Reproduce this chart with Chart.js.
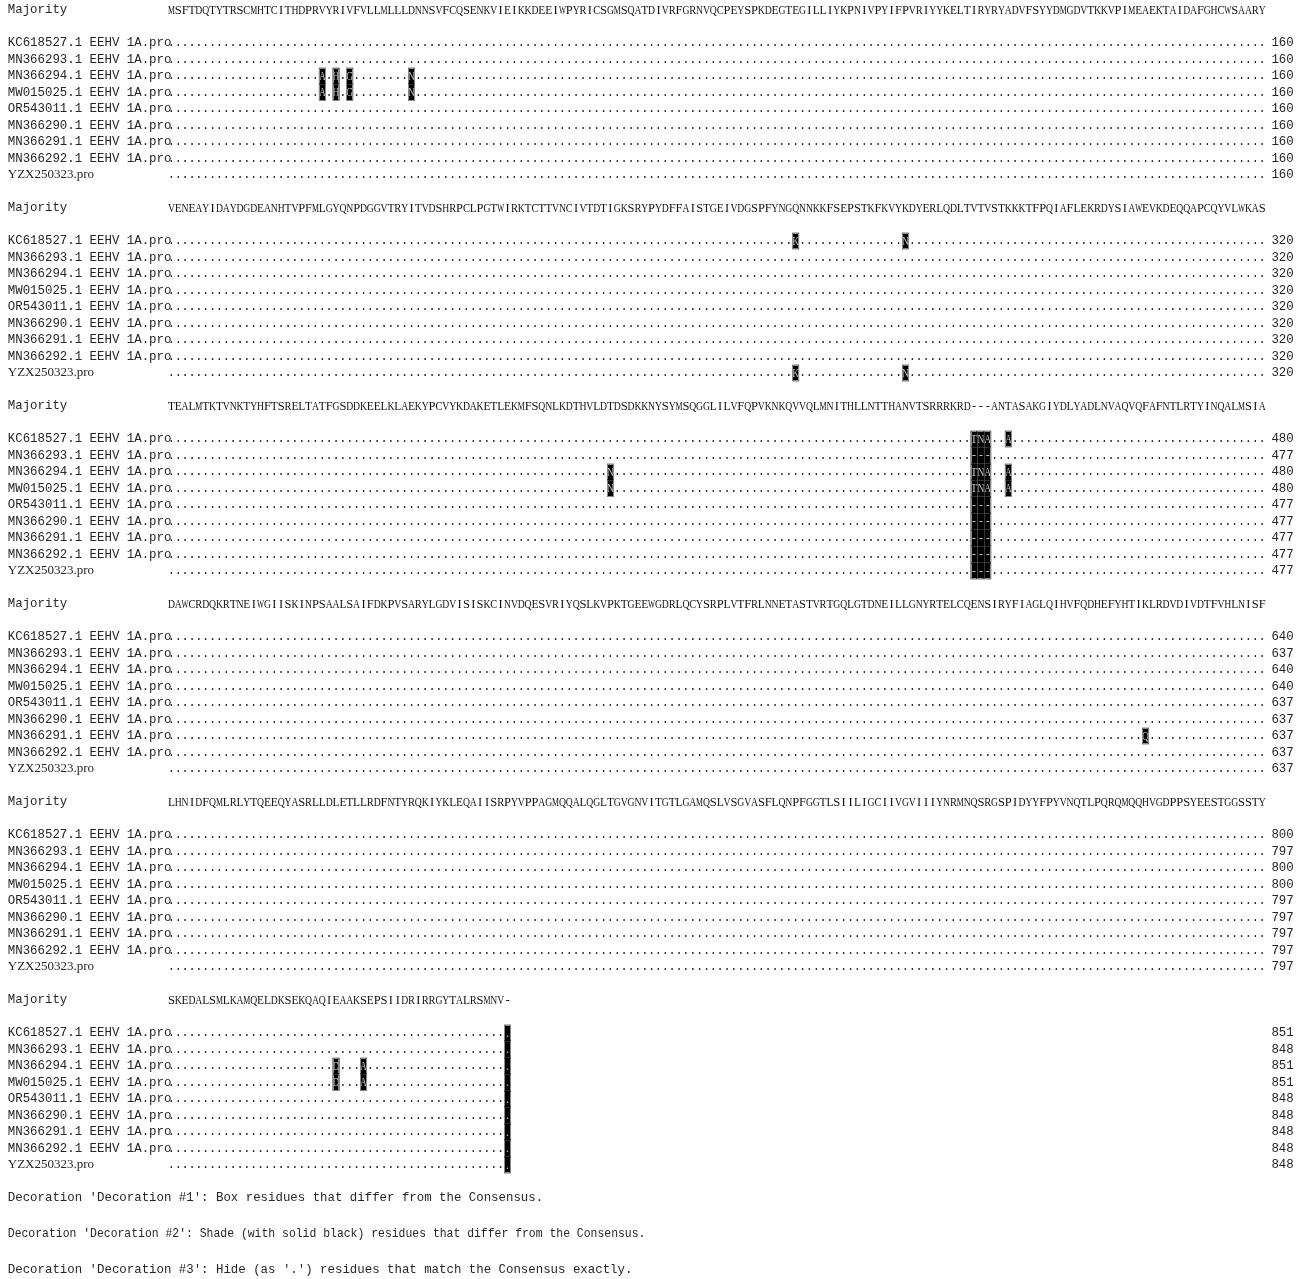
<!DOCTYPE html>
<html>
<head>
<meta charset="utf-8">
<script src="https://cdn.jsdelivr.net/npm/chart.js@4.4.0/dist/chart.umd.min.js"></script>
<style>
html,body{margin:0;padding:0;background:#fff;}
#wrap{width:1307px;height:1279px;}
</style>
</head>
<body>
<div id="wrap"><canvas id="c" width="1307" height="1279"></canvas></div>
<script>
// ---------- DATA ----------
const majorityBlocks = [
  "MSFTDQTYTRSCMHTCITHDPRVYRIVFVLLMLLLDNNSVFCQSENKVIEIKKDEEIWPYRICSGMSQATDIVRFGRNVQCPEYSPKDEGTEGILLIYKPNIVPYIFPVRIYYKELTIRYRYADVFSYYDMGDVTKKVPIMEAEKTAIDAFGHCWSAARY",
  "VENEAYIDAYDGDEANHTVPFMLGYQNPDGGVTRYITVDSHRPCLPGTWIRKTCTTVNCIVTDTIGKSRYPYDFFAISTGEIVDGSPFYNGQNNKKFSEPSTKFKVYKDYERLQDLTVTVSTKKKTFPQIAFLEKRDYSIAWEVKDEQQAPCQYVLWKAS",
  "TEALMTKTVNKTYHFTSRELTATFGSDDKEELKLAEKYPCVYKDAKETLEKMFSQNLKDTHVLDTDSDKKNYSYMSQGGLILVFQPVKNKQVVQLMNITHLLNTTHANVTSRRRKRD---ANTASAKGIYDLYADLNVAQVQFAFNTLRTYINQALMSIA",
  "DAWCRDQKRTNEIWGIISKINPSAALSAIFDKPVSARYLGDVISISKCINVDQESVRIYQSLKVPKTGEEWGDRLQCYSRPLVTFRLNNETASTVRTGQLGTDNEILLGNYRTELCQENSIRYFIAGLQIHVFQDHEFYHTIKLRDVDIVDTFVHLNISF",
  "LHNIDFQMLRLYTQEEQYASRLLDLETLLRDFNTYRQKIYKLEQAIISRPYVPPAGMQQALQGLTGVGNVITGTLGAMQSLVSGVASFLQNPFGGTLSIILIGCIIVGVIIIYNRMNQSRGSPIDYYFPYVNQTLPQRQMQQHVGDPPSYEESTGGSSTY",
  "SKEDALSMLKAMQELDKSEKQAQIEAAKSEPSIIDRIRRGYTALRSMNV-"
];
const seqNames = [
  "KC618527.1 EEHV 1A.pro",
  "MN366293.1 EEHV 1A.pro",
  "MN366294.1 EEHV 1A.pro",
  "MW015025.1 EEHV 1A.pro",
  "OR543011.1 EEHV 1A.pro",
  "MN366290.1 EEHV 1A.pro",
  "MN366291.1 EEHV 1A.pro",
  "MN366292.1 EEHV 1A.pro",
  "YZX250323.pro"
];
const endNumbers = [
  [160,160,160,160,160,160,160,160,160],
  [320,320,320,320,320,320,320,320,320],
  [480,477,480,480,477,477,477,477,477],
  [640,637,640,640,637,637,637,637,637],
  [800,797,800,800,797,797,797,797,797],
  [851,848,851,851,848,848,848,848,848]
];
// differing residues: [block, sequence row, column, residue]
const differences = [
  [0,2,22,"A"],[0,2,24,"H"],[0,2,26,"G"],[0,2,35,"N"],
  [0,3,22,"A"],[0,3,24,"H"],[0,3,26,"G"],[0,3,35,"N"],
  [1,0,91,"K"],[1,0,107,"N"],[1,8,91,"K"],[1,8,107,"N"],
  [2,2,64,"N"],[2,3,64,"N"],
  [2,0,117,"T"],[2,0,118,"N"],[2,0,119,"A"],[2,0,122,"A"],
  [2,2,117,"T"],[2,2,118,"N"],[2,2,119,"A"],[2,2,122,"A"],
  [2,3,117,"T"],[2,3,118,"N"],[2,3,119,"A"],[2,3,122,"A"],
  [2,1,117,"-"],[2,1,118,"-"],[2,1,119,"-"],
  [2,4,117,"-"],[2,4,118,"-"],[2,4,119,"-"],
  [2,5,117,"-"],[2,5,118,"-"],[2,5,119,"-"],
  [2,6,117,"-"],[2,6,118,"-"],[2,6,119,"-"],
  [2,7,117,"-"],[2,7,118,"-"],[2,7,119,"-"],
  [2,8,117,"-"],[2,8,118,"-"],[2,8,119,"-"],
  [3,6,142,"Q"],
  [5,2,24,"D"],[5,2,28,"A"],[5,3,24,"D"],[5,3,28,"A"],
  [5,0,49,"."],[5,1,49,"."],[5,2,49,"."],[5,3,49,"."],[5,4,49,"."],
  [5,5,49,"."],[5,6,49,"."],[5,7,49,"."],[5,8,49,"."]
];
const decorationNotes = [
  "Decoration 'Decoration #1': Box residues that differ from the Consensus.",
  "Decoration 'Decoration #2': Shade (with solid black) residues that differ from the Consensus.",
  "Decoration 'Decoration #3': Hide (as '.') residues that match the Consensus exactly."
];

// ---------- LAYOUT (scale units: x = alignment column, y = text row) ----------
const ROWS_PER_BLOCK = 12;
const LABEL_COL = -23.85;
const NUMBER_COL = 160.35;
const NOTE_ROWS = [72.0, 74.18, 76.36];
const NOTE_END_COLS = [90, 69.1, 90];

const alignPlugin = {
  id: 'alignment',
  afterDraw(chart) {
    const ctx = chart.ctx;
    const xs = chart.scales.x, ys = chart.scales.y;
    const X = v => xs.getPixelForValue(v);
    const Y = v => ys.getPixelForValue(v);
    const cw = X(1) - X(0);
    const rh = Y(1) - Y(0);
    ctx.save();
    ctx.textBaseline = 'middle';
    const labelFont = '12.4px "Liberation Mono", monospace';
    const labelColor = '#262626';

    majorityBlocks.forEach((seq, b) => {
      const r0 = b * ROWS_PER_BLOCK;
      // Majority label
      ctx.fillStyle = labelColor;
      ctx.textAlign = 'left';
      ctx.font = labelFont;
      ctx.fillText('Majority', X(LABEL_COL), Y(r0));
      // majority residues
      ctx.fillStyle = '#111';
      ctx.font = '12.5px "Liberation Serif", serif';
      ctx.textAlign = 'center';
      for (let i = 0; i < seq.length; i++) {
        ctx.fillText(seq[i], X(i), Y(r0) + 0.5, cw * 1.02);
      }
      const diffMap = {};
      differences.filter(d => d[0] === b).forEach(d => { diffMap[d[1] + ':' + d[2]] = d[3]; });

      seqNames.forEach((name, s) => {
        const r = r0 + 2 + s;
        const y = Y(r);
        ctx.fillStyle = labelColor;
        ctx.textAlign = 'left';
        if (name.indexOf('EEHV') >= 0) {
          ctx.font = labelFont;
        } else {
          ctx.font = '13px "Liberation Serif", serif';
        }
        ctx.fillText(name, X(LABEL_COL), y);
        // boxes first
        for (let i = 0; i < seq.length; i++) {
          if (diffMap[s + ':' + i] !== undefined) {
            ctx.fillStyle = '#000';
            ctx.fillRect(X(i) - cw / 2, y - rh / 2, cw, rh);
          }
        }
        // residues / dots
        for (let i = 0; i < seq.length; i++) {
          const d = diffMap[s + ':' + i];
          if (d !== undefined) {
            ctx.fillStyle = '#c4c4c4';
            ctx.font = '12px "Liberation Serif", serif';
            ctx.textAlign = 'center';
            ctx.fillText(d, X(i), y + 0.5, cw * 1.0);
          } else {
            ctx.fillStyle = '#222';
            ctx.font = '12px "Liberation Mono", monospace';
            ctx.textAlign = 'center';
            ctx.fillText('.', X(i), y);
          }
        }
        // box outlines (grey)
        ctx.strokeStyle = '#8a8a8a';
        ctx.lineWidth = 1;
        for (let i = 0; i < seq.length; i++) {
          if (diffMap[s + ':' + i] !== undefined) {
            const up = diffMap[(s - 1) + ':' + i] !== undefined;
            const dn = diffMap[(s + 1) + ':' + i] !== undefined;
            const lf = diffMap[s + ':' + (i - 1)] !== undefined;
            const rt = diffMap[s + ':' + (i + 1)] !== undefined;
            const x0 = Math.round(X(i) - cw / 2) + 0.5, x1 = Math.round(X(i) + cw / 2) - 0.5;
            const y0 = Math.round(y - rh / 2) + 0.5, y1 = Math.round(y + rh / 2) - 0.5;
            ctx.beginPath();
            if (!up) { ctx.moveTo(x0, y0); ctx.lineTo(x1, y0); }
            if (!dn) { ctx.moveTo(x0, y1); ctx.lineTo(x1, y1); }
            if (!lf) { ctx.moveTo(x0, y0); ctx.lineTo(x0, y1); }
            if (!rt) { ctx.moveTo(x1, y0); ctx.lineTo(x1, y1); }
            ctx.stroke();
          }
        }
        // end number
        ctx.fillStyle = labelColor;
        ctx.textAlign = 'left';
        ctx.font = labelFont;
        ctx.fillText(String(endNumbers[b][s]), X(NUMBER_COL), y);
      });
    });

    ctx.fillStyle = labelColor;
    ctx.textAlign = 'left';
    ctx.font = labelFont;
    decorationNotes.forEach((t, k) => {
      const maxW = X(NOTE_END_COLS[k]) - X(LABEL_COL);
      ctx.fillText(t, X(LABEL_COL), Y(NOTE_ROWS[k]), maxW);
    });
    ctx.restore();
  }
};

const PX_PER_COL = 6.86, COL0_PX = 171.4;
const PX_PER_ROW = 16.5, ROW0_PX = 10;
const W = 1307, H = 1279;

new Chart(document.getElementById('c'), {
  type: 'scatter',
  data: { datasets: [{ data: [], pointRadius: 0 }] },
  options: {
    responsive: false,
    animation: false,
    events: [],
    layout: { padding: 0 },
    plugins: { legend: { display: false }, tooltip: { enabled: false }, title: { display: false } },
    scales: {
      x: { type: 'linear', display: false, min: -COL0_PX / PX_PER_COL, max: (W - COL0_PX) / PX_PER_COL },
      y: { type: 'linear', display: false, reverse: true, min: -ROW0_PX / PX_PER_ROW, max: (H - ROW0_PX) / PX_PER_ROW }
    }
  },
  plugins: [alignPlugin]
});
</script>
</body>
</html>
